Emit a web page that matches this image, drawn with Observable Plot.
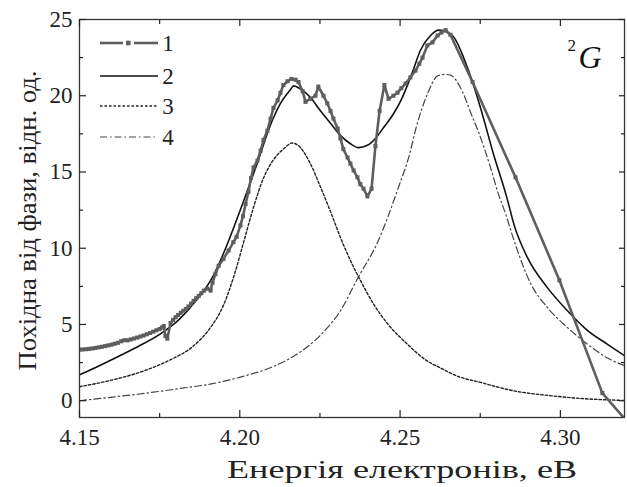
<!DOCTYPE html>
<html><head><meta charset="utf-8">
<script src="https://cdn.jsdelivr.net/npm/d3@7"></script>
<script src="https://cdn.jsdelivr.net/npm/@observablehq/plot@0.6"></script>
<style>
body{margin:0;background:#fff;}
#chart{width:627px;height:487px;}
</style></head><body><div id="chart"></div>
<script>
// Series 1: experiment (energy eV, value)
const s1 = [[4.1500,3.35],[4.1510,3.36],[4.1520,3.38],[4.1530,3.40],[4.1540,3.43],[4.1550,3.46],[4.1560,3.50],[4.1570,3.54],[4.1580,3.58],[4.1590,3.63],[4.1600,3.68],[4.1610,3.74],[4.1620,3.80],[4.1630,3.90],[4.1640,3.97],[4.1650,3.96],[4.1660,4.02],[4.1670,4.08],[4.1680,4.14],[4.1690,4.21],[4.1700,4.28],[4.1710,4.36],[4.1720,4.44],[4.1730,4.53],[4.1740,4.62],[4.1750,4.70],[4.1757,4.80],[4.1763,4.90],[4.1768,4.25],[4.1774,4.07],[4.1784,5.10],[4.1792,5.30],[4.1800,5.48],[4.1808,5.62],[4.1816,5.77],[4.1824,5.90],[4.1832,6.02],[4.1840,6.18],[4.1848,6.37],[4.1856,6.55],[4.1864,6.72],[4.1872,6.88],[4.1880,7.05],[4.1888,7.22],[4.1899,7.35],[4.1909,7.22],[4.1915,7.75],[4.1924,8.30],[4.1934,8.85],[4.1949,9.30],[4.1965,9.85],[4.1980,10.40],[4.1990,10.75],[4.2002,11.50],[4.2010,12.10],[4.2018,12.90],[4.2027,13.70],[4.2035,14.60],[4.2043,15.30],[4.2055,15.75],[4.2065,16.40],[4.2074,17.10],[4.2086,17.70],[4.2096,18.50],[4.2105,19.20],[4.2118,19.70],[4.2127,20.20],[4.2136,20.70],[4.2149,20.95],[4.2161,21.10],[4.2174,21.05],[4.2183,20.90],[4.2196,20.30],[4.2205,19.60],[4.2220,19.80],[4.2236,20.00],[4.2245,20.60],[4.2261,20.00],[4.2273,19.50],[4.2283,19.00],[4.2292,18.50],[4.2305,17.85],[4.2314,17.20],[4.2323,16.50],[4.2336,15.95],[4.2345,15.55],[4.2355,15.10],[4.2367,14.65],[4.2376,14.20],[4.2386,13.90],[4.2398,13.40],[4.2411,13.90],[4.2423,16.70],[4.2436,19.00],[4.2451,20.70],[4.2464,19.80],[4.2479,20.00],[4.2492,20.20],[4.2504,20.50],[4.2517,20.80],[4.2532,21.20],[4.2548,21.65],[4.2560,22.10],[4.2570,22.50],[4.2585,23.30],[4.2601,23.50],[4.2617,23.95],[4.2629,24.15],[4.2642,24.30],[4.2657,24.00],[4.2726,20.90],[4.2860,14.65],[4.2997,7.90],[4.3131,0.50],[4.3230,-1.90]];
// Series 2: total fit
const s2 = [[4.1500,1.70],[4.1562,2.30],[4.1625,2.95],[4.1687,3.60],[4.1750,4.35],[4.1812,5.35],[4.1865,6.60],[4.1915,8.10],[4.1950,9.70],[4.1980,11.30],[4.2012,13.10],[4.2055,15.60],[4.2096,18.10],[4.2127,19.50],[4.2158,20.40],[4.2168,20.65],[4.2189,20.45],[4.2220,19.90],[4.2252,19.00],[4.2283,18.20],[4.2314,17.40],[4.2345,16.85],[4.2370,16.60],[4.2398,16.75],[4.2423,17.20],[4.2448,17.90],[4.2479,18.80],[4.2505,19.80],[4.2536,21.40],[4.2564,23.00],[4.2595,23.95],[4.2620,24.30],[4.2663,23.95],[4.2710,21.85],[4.2751,19.20],[4.2791,16.20],[4.2832,13.40],[4.2856,11.50],[4.2897,9.40],[4.2960,7.40],[4.3022,5.90],[4.3085,4.60],[4.3147,3.70],[4.3200,2.95]];
// Series 3: first resonance component
const s3 = [[4.1500,0.92],[4.1600,1.35],[4.1700,1.95],[4.1780,2.65],[4.1850,3.50],[4.1905,4.70],[4.1950,6.30],[4.1985,8.40],[4.2012,10.40],[4.2043,12.70],[4.2074,14.60],[4.2105,15.80],[4.2136,16.50],[4.2164,16.90],[4.2189,16.60],[4.2220,15.55],[4.2252,14.00],[4.2283,12.40],[4.2314,10.70],[4.2345,9.20],[4.2376,7.90],[4.2417,6.35],[4.2461,5.05],[4.2523,3.70],[4.2585,2.60],[4.2626,2.15],[4.2680,1.60],[4.2751,1.20],[4.2854,0.65],[4.2960,0.35],[4.3063,0.15],[4.3200,0.02]];
// Series 4: second resonance component
const s4 = [[4.1500,0.00],[4.1603,0.24],[4.1709,0.50],[4.1812,0.80],[4.1915,1.12],[4.2002,1.55],[4.2105,2.25],[4.2189,3.20],[4.2261,4.50],[4.2314,5.90],[4.2367,8.00],[4.2430,10.40],[4.2495,14.00],[4.2530,16.20],[4.2550,17.90],[4.2585,20.10],[4.2617,21.30],[4.2640,21.40],[4.2657,21.35],[4.2698,20.10],[4.2720,18.90],[4.2745,17.60],[4.2782,15.30],[4.2806,13.60],[4.2830,12.20],[4.2854,10.60],[4.2907,7.70],[4.2960,6.10],[4.3022,4.80],[4.3085,3.70],[4.3147,2.80],[4.3200,2.30]];

const xMajor = [4.15, 4.20, 4.25, 4.30];
const xMinor = [4.175, 4.225, 4.275];
const yMajor = [0, 5, 10, 15, 20, 25];
const yMinor = [2.5, 7.5, 12.5, 17.5, 22.5];
const legendLabels = ["1", "2", "3", "4"];
const xTitle = "Енергія електронів, еВ";
const yTitle = "Похідна від фази, відн. од.";
const termSup = "2";
const termSym = "G";

const FONT = "Liberation Serif, Times New Roman, serif";
const C1 = "#5e5e5e", C2 = "#111", C3 = "#222", C4 = "#444";

const plot = Plot.plot({
  width: 627, height: 487,
  marginLeft: 79, marginRight: 3, marginTop: 19, marginBottom: 70,
  style: "font-family: 'Liberation Serif', 'Times New Roman', serif; background: #fff; color: #222;",
  x: {domain: [4.15, 4.32]},
  y: {domain: [-1.1, 25]},
  marks: [
    Plot.line(s4, {x: d => d[0], y: d => d[1], stroke: C4, strokeWidth: 1.2, strokeDasharray: "7,3,1.5,3", curve: "monotone-x", clip: true}),
    Plot.line(s3, {x: d => d[0], y: d => d[1], stroke: C3, strokeWidth: 1.4, strokeDasharray: "2.5,2", curve: "monotone-x", clip: true}),
    Plot.line(s2, {x: d => d[0], y: d => d[1], stroke: C2, strokeWidth: 1.6, curve: "monotone-x", clip: true}),
    Plot.line(s1, {x: d => d[0], y: d => d[1], stroke: C1, strokeWidth: 2.6, clip: true}),
    Plot.dot(s1, {x: d => d[0], y: d => d[1], symbol: "square", r: 2.3, fill: C1, stroke: null, clip: true}),
    Plot.frame({stroke: "#333", strokeWidth: 1.3}),
    Plot.axisX(xMajor, {anchor: "bottom", tickSize: -7, tickPadding: 18, tickFormat: d => d.toFixed(2), fontSize: 23, fontFamily: FONT, fill: "#222", strokeWidth: 1.2, label: null}),
    Plot.axisX(xMinor, {anchor: "bottom", tickSize: -4, fill: "none", strokeWidth: 1.2, label: null}),
    Plot.axisX(xMajor, {anchor: "top", tickSize: -6, fill: "none", strokeWidth: 1.2, label: null}),
    Plot.axisX(xMinor, {anchor: "top", tickSize: -4, fill: "none", strokeWidth: 1.2, label: null}),
    Plot.axisY(yMajor, {anchor: "left", tickSize: -7, tickPadding: 14, tickFormat: d => String(d), fontSize: 23, fontFamily: FONT, fill: "#222", strokeWidth: 1.2, label: null}),
    Plot.axisY(yMinor, {anchor: "left", tickSize: -4, fill: "none", strokeWidth: 1.2, label: null}),
    Plot.axisY(yMajor, {anchor: "right", tickSize: -6, fill: "none", strokeWidth: 1.2, label: null}),
    Plot.axisY(yMinor, {anchor: "right", tickSize: -4, fill: "none", strokeWidth: 1.2, label: null}),
    Plot.text([xTitle], {frameAnchor: "bottom", dx: 50, dy: 52, textAnchor: "middle", lineAnchor: "middle", fontSize: 25, fontFamily: FONT, fill: "#222"}),
    Plot.text([yTitle], {frameAnchor: "left", dx: -52, dy: 2, rotate: -90, textAnchor: "middle", lineAnchor: "middle", fontSize: 26, fontFamily: FONT, fill: "#222"}),
    Plot.text([termSup], {frameAnchor: "top-right", dx: -57, dy: 26, textAnchor: "start", lineAnchor: "middle", fontSize: 17, fontFamily: FONT, fill: "#111"}),
    Plot.text([termSym], {frameAnchor: "top-right", dx: -46, dy: 38, textAnchor: "start", lineAnchor: "middle", fontSize: 32, fontFamily: FONT, fontStyle: "italic", fill: "#111"})
  ]
});
document.getElementById("chart").append(plot);

const svg = d3.select(plot);
svg.attr("font-family", FONT);
// Fit axis titles to the reference's extents
svg.selectAll("text").each(function () {
  this.setAttribute("font-family", FONT);
  const t = this.textContent;
  if (t === xTitle) { this.setAttribute("textLength", 350); this.setAttribute("lengthAdjust", "spacingAndGlyphs"); }
  if (t === yTitle) { this.setAttribute("textLength", 300); this.setAttribute("lengthAdjust", "spacingAndGlyphs"); }
});

// Legend (inside the frame, top-left)
const lg = svg.append("g").attr("aria-label", "legend").attr("font-family", FONT);
const rows = [43, 76, 106, 137];
const lx0 = 100, lx1 = 158;
rows.forEach((ry, i) => {
  if (i === 0) {
    lg.append("line").attr("x1", lx0).attr("x2", lx0 + 23).attr("y1", ry).attr("y2", ry).attr("stroke", C1).attr("stroke-width", 2.6);
    lg.append("line").attr("x1", lx0 + 34).attr("x2", lx1).attr("y1", ry).attr("y2", ry).attr("stroke", C1).attr("stroke-width", 2.6);
    lg.append("rect").attr("x", lx0 + 26).attr("y", ry - 2.3).attr("width", 4.6).attr("height", 4.6).attr("fill", C1);
  } else {
    const st = [null, {c: C2, w: 1.6, d: null}, {c: C3, w: 1.4, d: "2.5,2"}, {c: C4, w: 1.2, d: "7,3,1.5,3"}][i];
    lg.append("line").attr("x1", lx0).attr("x2", lx1).attr("y1", ry).attr("y2", ry).attr("stroke", st.c).attr("stroke-width", st.w).attr("stroke-dasharray", st.d);
  }
  lg.append("text").attr("x", 168).attr("y", ry).attr("dy", "0.34em").attr("font-size", 23).attr("font-family", FONT).attr("fill", "#222").text(legendLabels[i]);
});
</script>
</body></html>
